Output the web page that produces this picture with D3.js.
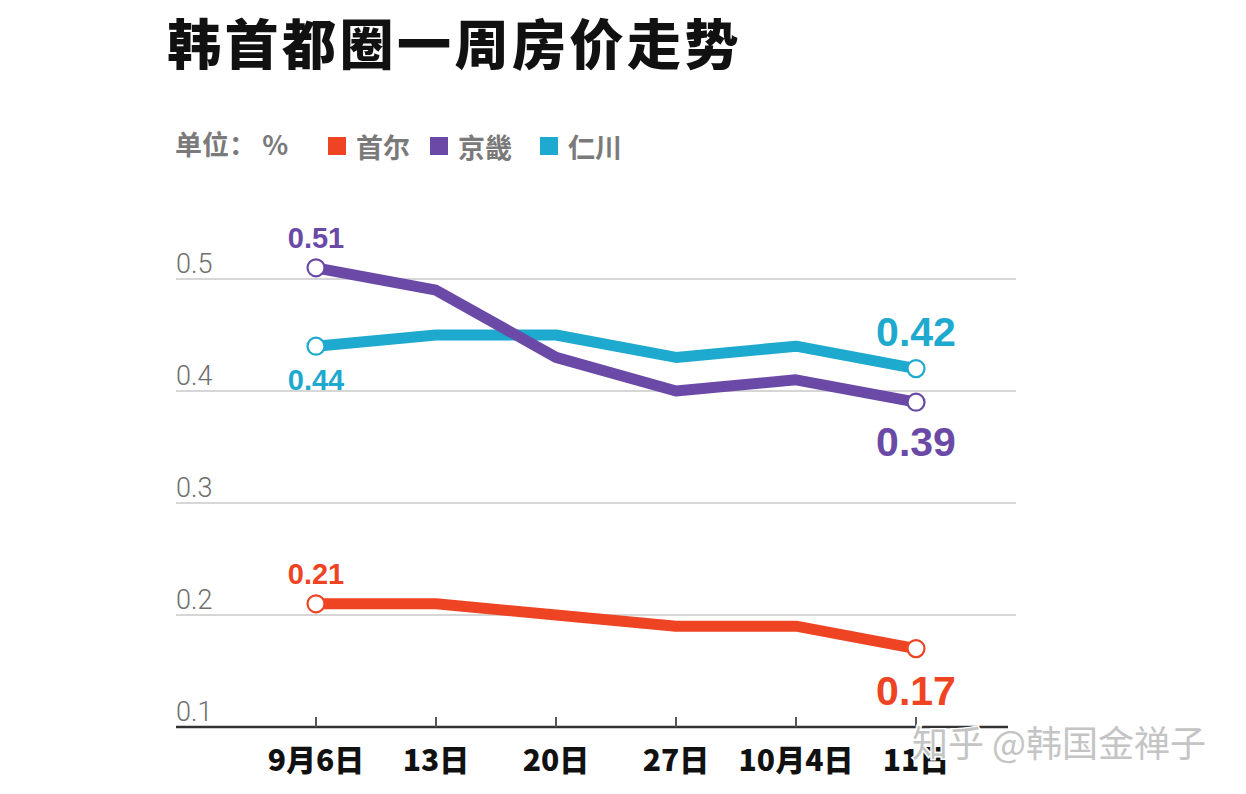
<!DOCTYPE html>
<html>
<head>
<meta charset="utf-8">
<script src="https://cdn.jsdelivr.net/npm/d3@7"></script>
<style>
  html, body { margin: 0; padding: 0; background: #fff; }
  svg { display: block; }
</style>
</head>
<body>
<svg id="chart" width="1246" height="794"></svg>
<script>
const categories = ["9月6日", "13日", "20日", "27日", "10月4日", "11日"];
const seoul   = [0.21, 0.21, 0.20, 0.19, 0.19, 0.17];
const gyeonggi = [0.51, 0.49, 0.43, 0.40, 0.41, 0.39];
const incheon = [0.44, 0.45, 0.45, 0.43, 0.44, 0.42];
const seriesNames = ["首尔", "京畿", "仁川"];
const yTicks = [0.1, 0.2, 0.3, 0.4, 0.5];
const title = "韩首都圈一周房价走势";
const unitLabel = "单位： %";
const watermark = "知乎 @韩国金禅子";

const colors = ["#ef4423", "#6a4aa6", "#1ea9cf"];
const seriesData = [seoul, gyeonggi, incheon];

const svg = d3.select("#chart");
const x = d3.scalePoint().domain(categories).range([316, 916]);
const y = d3.scaleLinear().domain([0.1, 0.5]).range([727, 279]);
const gridLeft = 176, gridRight = 1016;

// title
svg.append("text").attr("x", 167).attr("y", 65)
  .attr("font-family", "'Noto Sans CJK SC', sans-serif").attr("font-weight", 900)
  .attr("font-size", 54).attr("letter-spacing", 3.5).attr("fill", "#111").text(title);

// legend
const lg = svg.append("g").attr("font-family", "'Noto Sans CJK SC', sans-serif")
  .attr("font-size", 27).attr("font-weight", 700).attr("fill", "#7a7a7a");
lg.append("text").attr("x", 175).attr("y", 155).text(unitLabel);
const legX = [328, 430, 540];
seriesNames.forEach((n, i) => {
  lg.append("rect").attr("x", legX[i]).attr("y", 137).attr("width", 18).attr("height", 18).attr("fill", colors[i]);
  lg.append("text").attr("x", legX[i] + 28).attr("y", 158).text(n);
});

// grid lines
const grid = svg.append("g");
yTicks.filter(t => t > 0.1).forEach(t => {
  grid.append("line").attr("x1", gridLeft).attr("x2", gridRight)
    .attr("y1", y(t)).attr("y2", y(t)).attr("stroke", "#c8c8c8").attr("stroke-width", 1.5);
});
// y tick labels
yTicks.forEach(t => {
  svg.append("text").attr("x", 176).attr("y", y(t) - 6)
    .attr("font-family", "Roboto, 'Liberation Sans', sans-serif").attr("font-weight", 300)
    .attr("font-size", 27).attr("fill", "#6e6e6e").text(d3.format(".1f")(t));
});

// x axis
const xAxis = d3.axisBottom(x).tickSize(0).tickPadding(0);
const gx = svg.append("g").attr("transform", `translate(0,${y(0.1)})`).call(xAxis);
gx.select(".domain").remove();
gx.selectAll("text").remove();
svg.append("line").attr("x1", gridLeft).attr("x2", 1008).attr("y1", y(0.1)).attr("y2", y(0.1))
  .attr("stroke", "#333").attr("stroke-width", 2.5);
categories.forEach(c => {
  svg.append("line").attr("x1", x(c)).attr("x2", x(c)).attr("y1", y(0.1) - 10).attr("y2", y(0.1))
    .attr("stroke", "#555").attr("stroke-width", 2);
  svg.append("text").attr("x", x(c)).attr("y", 771).attr("text-anchor", "middle")
    .attr("font-family", "'Noto Sans CJK SC', sans-serif").attr("font-weight", 900)
    .attr("font-size", 30).attr("fill", "#111").text(c);
});

// lines
const line = d3.line().x((d, i) => x(categories[i])).y(d => y(d));
[2, 1, 0].forEach(si => {
  svg.append("path").datum(seriesData[si]).attr("d", line)
    .attr("fill", "none").attr("stroke", colors[si]).attr("stroke-width", 11)
    .attr("stroke-linejoin", "round");
});
// end circles
seriesData.forEach((s, si) => {
  [0, s.length - 1].forEach(i => {
    svg.append("circle").attr("cx", x(categories[i])).attr("cy", y(s[i])).attr("r", 8.5)
      .attr("fill", "#fff").attr("stroke", colors[si]).attr("stroke-width", 2.2);
  });
});

// value labels
const labelFont = "'Liberation Sans', Arial, sans-serif";
function valLabel(si, i, dy, size, bg) {
  const v = seriesData[si][i];
  const tx = x(categories[i]);
  const ty = y(v) + dy;
  if (bg) {
    svg.insert("rect", "text").attr("x", tx - 40).attr("y", ty - size * 0.8).attr("width", 80).attr("height", size)
      .attr("fill", "#fff");
  }
  svg.append("text").attr("x", tx).attr("y", ty).attr("text-anchor", "middle")
    .attr("font-family", labelFont).attr("font-weight", 700).attr("font-size", size)
    .attr("fill", colors[si]).text(d3.format(".2f")(v));
}
valLabel(1, 0, -20, 29);
valLabel(2, 0, 44, 29, true);
valLabel(0, 0, -20, 29);
valLabel(2, 5, -23, 41);
valLabel(1, 5, 54, 41);
valLabel(0, 5, 56, 41);

// watermark
svg.append("text").attr("x", 912).attr("y", 757)
  .attr("font-family", "'Noto Sans CJK SC', sans-serif").attr("font-weight", 400)
  .attr("font-size", 36).attr("fill", "#c4c4c4")
  .attr("stroke", "#fff").attr("stroke-width", 3).attr("paint-order", "stroke")
  .text(watermark);
</script>
</body>
</html>
